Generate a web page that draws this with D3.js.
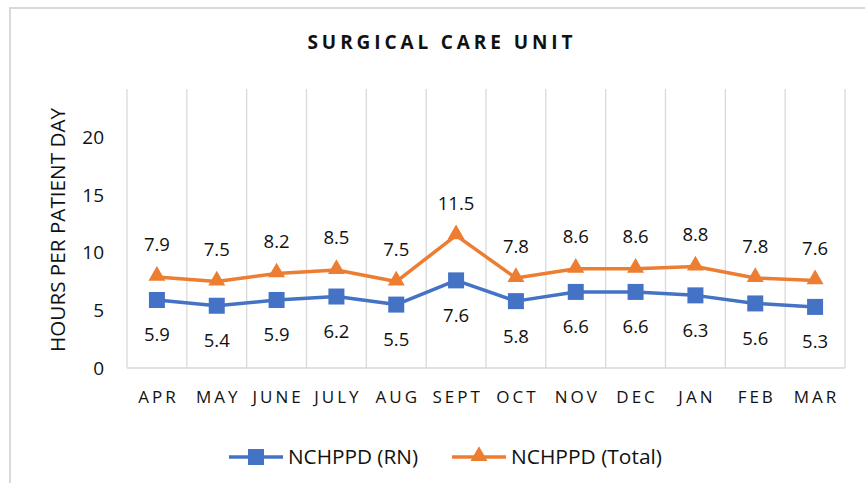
<!DOCTYPE html>
<html><head><meta charset="utf-8">
<script src="https://cdn.jsdelivr.net/npm/d3@7"></script>
<style>body{margin:0;background:#fff}text{font-family:"Open Sans",sans-serif}</style>
</head><body><svg id="c" width="865" height="483"></svg>
<script>
const months = ["APR","MAY","JUNE","JULY","AUG","SEPT","OCT","NOV","DEC","JAN","FEB","MAR"];
const rnValues = [5.9,5.4,5.9,6.2,5.5,7.6,5.8,6.6,6.6,6.3,5.6,5.3];
const totalValues = [7.9,7.5,8.2,8.5,7.5,11.5,7.8,8.6,8.6,8.8,7.8,7.6];
const yTicks = [0,5,10,15,20];
const seriesNames = ["NCHPPD (RN)","NCHPPD (Total)"];
const blue = "#4472C4", orange = "#ED7D31", grid = "#d9d9d9", ink = "#111";

const svg = d3.select("#c");
svg.append("rect").attr("x",10).attr("y",8).attr("width",870).attr("height",490)
  .attr("fill","none").attr("stroke",grid).attr("stroke-width",2);

const x = d3.scaleBand().domain(months).range([127,845]);
const y = d3.scaleLinear().domain([0,24.2]).range([368,89]);

const bounds = months.map(m=>x(m)).concat([845]);
svg.append("g").selectAll("line").data(bounds).join("line")
  .attr("x1",d=>d).attr("x2",d=>d).attr("y1",y(24.2)).attr("y2",y(0))
  .attr("stroke",grid).attr("stroke-width",1.3);
svg.append("line").attr("x1",127).attr("x2",845).attr("y1",y(0)).attr("y2",y(0))
  .attr("stroke",grid).attr("stroke-width",1.5);

svg.append("g").selectAll("text").data(yTicks).join("text")
  .attr("x",104).attr("y",d=>y(d)).attr("dy","0.35em").attr("text-anchor","end")
  .attr("font-size",19).attr("fill",ink).text(d=>d);
svg.append("g").selectAll("text").data(months).join("text")
  .attr("x",d=>x(d)+x.bandwidth()/2+1.5).attr("y",397).attr("dy","0.35em").attr("text-anchor","middle")
  .attr("font-size",17).attr("letter-spacing",3).attr("fill",ink).text(d=>d);
svg.append("text").attr("transform","translate(58,230) rotate(-90)").attr("text-anchor","middle")
  .attr("dy","0.35em").attr("font-size",20).attr("fill",ink)
  .attr("textLength",244).attr("lengthAdjust","spacingAndGlyphs").text("HOURS PER PATIENT DAY");
svg.append("text").attr("x",440).attr("y",42).attr("dy","0.35em").attr("text-anchor","middle")
  .attr("font-size",19).attr("font-weight","bold").attr("fill",ink)
  .attr("textLength",265).attr("lengthAdjust","spacing").text("SURGICAL CARE UNIT");

const cx = (d,i)=>x(months[i])+x.bandwidth()/2;
const line = d3.line().x((d,i)=>cx(d,i)).y(d=>y(d));
svg.append("path").datum(totalValues).attr("d",line).attr("fill","none").attr("stroke",orange).attr("stroke-width",3.5).attr("stroke-linejoin","round");
svg.append("path").datum(rnValues).attr("d",line).attr("fill","none").attr("stroke",blue).attr("stroke-width",3.5).attr("stroke-linejoin","round");

const tri = d3.symbol().type(d3.symbolTriangle).size(125);
svg.append("g").selectAll("path").data(totalValues).join("path")
  .attr("d",tri).attr("transform",(d,i)=>`translate(${cx(d,i)},${y(d)-1})`).attr("fill",orange);
svg.append("g").selectAll("rect").data(rnValues).join("rect")
  .attr("x",(d,i)=>cx(d,i)-8).attr("y",d=>y(d)-8).attr("width",16).attr("height",16).attr("fill",blue);

svg.append("g").selectAll("text").data(totalValues).join("text")
  .attr("x",(d,i)=>cx(d,i)).attr("y",d=>y(d)-32).attr("dy","0.35em").attr("text-anchor","middle")
  .attr("font-size",18.5).attr("fill",ink).text(d=>d.toFixed(1));
svg.append("g").selectAll("text").data(rnValues).join("text")
  .attr("x",(d,i)=>cx(d,i)).attr("y",d=>y(d)+35).attr("dy","0.35em").attr("text-anchor","middle")
  .attr("font-size",18.5).attr("fill",ink).text(d=>d.toFixed(1));

const lg = svg.append("g");
lg.append("line").attr("x1",229).attr("x2",283).attr("y1",457).attr("y2",457).attr("stroke",blue).attr("stroke-width",3.5);
lg.append("rect").attr("x",248).attr("y",449).attr("width",16).attr("height",16).attr("fill",blue);
lg.append("text").attr("x",288).attr("y",457).attr("dy","0.35em").attr("font-size",20).attr("fill",ink)
  .attr("textLength",130).attr("lengthAdjust","spacingAndGlyphs").text(seriesNames[0]);
lg.append("line").attr("x1",452).attr("x2",506).attr("y1",457).attr("y2",457).attr("stroke",orange).attr("stroke-width",3.5);
lg.append("path").attr("d",tri).attr("transform","translate(479,456)").attr("fill",orange);
lg.append("text").attr("x",511).attr("y",457).attr("dy","0.35em").attr("font-size",20).attr("fill",ink)
  .attr("textLength",151).attr("lengthAdjust","spacingAndGlyphs").text(seriesNames[1]);
</script></body></html>
